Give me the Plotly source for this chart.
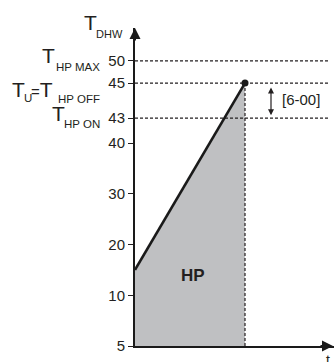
import numpy as np
import plotly.graph_objects as go

# schematic temperature axis: tick labels and where they sit on the (non-linear) axis
temp_ticks = [5, 10, 20, 30, 40, 43, 45, 50]
tick_pos = [0, 1, 2, 3, 4, 4.49, 5.18, 5.62]

# heat pump run: water heats from 15 to 45 over one period
heat_time = [0, 1]
heat_temp = [15, 45]

# limit lines
limit_temps = [50, 45, 43]
hp_on_temp = 43
hp_off_temp = 45
hyst_label = "[6-00]"

FONT = "Liberation Sans, Arial, sans-serif"
INK = "#231f20"

W, H = 334, 362
# plot area geometry (pixels) used only to place the free labels
X0, Y0, XS, YS, TOP = 135, 346, 110, 50.75, 28
x_max = (W - X0) / XS
y_max = (Y0 - TOP) / YS


def ypos(t):
    return float(np.interp(t, temp_ticks, tick_pos))


def px(x):
    return (x - X0) / XS


# paper coordinates from pixel position
def ppx(x):
    return (x - X0) / (W - X0)


def ppy(y):
    return (Y0 - y) / (Y0 - TOP)


heat_pos = [ypos(t) for t in heat_temp]

fig = go.Figure()

# shaded HP area
fig.add_trace(go.Scatter(x=heat_time, y=heat_pos, fill="tozeroy", fillcolor="#bfc0c2",
                         mode="lines", line=dict(width=0), hoverinfo="skip"))

# dashed limit lines
for t in limit_temps:
    fig.add_trace(go.Scatter(x=[0, px(328)], y=[ypos(t), ypos(t)], mode="lines",
                             line=dict(color=INK, width=1.2, dash="3px,2px")))

# dashed end-of-run line
fig.add_trace(go.Scatter(x=[heat_time[-1], heat_time[-1]], y=[0, heat_pos[-1]], mode="lines",
                         line=dict(color=INK, width=1.2, dash="3px,2px")))

# heating line with end dot
fig.add_trace(go.Scatter(x=heat_time, y=heat_pos, mode="lines",
                         line=dict(color="#1a1a1a", width=2.6)))
fig.add_trace(go.Scatter(x=[heat_time[-1]], y=[heat_pos[-1]], mode="markers",
                         marker=dict(color="#1a1a1a", size=7)))

ann = []


def label(text, x, y, size, anchor="right", bold=False):
    if bold:
        text = "<b>" + text + "</b>"
    ann.append(dict(x=ppx(x), y=ppy(y), xref="paper", yref="paper", text=text, showarrow=False,
                    borderpad=0, xanchor=anchor, yanchor="middle",
                    font=dict(family=FONT, size=size, color=INK)))


# axis title
label("T", 98, 22.5, 21)
label("DHW", 124, 33.5, 11)
# T HP MAX
label("T", 56, 55.5, 21)
label("HP MAX", 101, 66.5, 11.5)
# T U = T HP OFF
label("T", 26, 89.5, 21)
label("U", 33, 97.5, 11.5)
label("<span style='font-size:15px'>=</span>T", 54, 89.5, 21)
label("HP OFF", 101, 99, 11.5)
# T HP ON
label("T", 66, 113, 21)
label("HP ON", 101, 123.5, 11.5)
# area label, hysteresis label, time label
label("HP", 192.5, 275, 17, anchor="center", bold=True)
label(hyst_label, 281, 100, 15, anchor="left")
label("t", 328, 360, 14, anchor="center")

# axis arrowheads
ann.append(dict(x=0, y=1, xref="paper", yref="paper", ax=0, ay=14, text="", showarrow=True,
                arrowhead=2, arrowsize=1.1, arrowwidth=2, arrowcolor="#1a1a1a"))
ann.append(dict(x=ppx(333), y=0, xref="paper", yref="paper", ax=-14, ay=0, text="", showarrow=True,
                arrowhead=2, arrowsize=1.1, arrowwidth=2, arrowcolor="#1a1a1a"))
# hysteresis double arrow
ann.append(dict(x=px(271), y=ypos(hp_on_temp), ax=px(271), ay=ypos(hp_off_temp),
                xref="x", yref="y", axref="x", ayref="y", text="", showarrow=True,
                arrowhead=2, startarrowhead=2, arrowside="end+start", arrowsize=1,
                arrowwidth=1.2, arrowcolor=INK, standoff=3, startstandoff=3))

fig.update_layout(
    width=W, height=H,
    margin=dict(l=X0, r=0, t=TOP, b=H - Y0),
    plot_bgcolor="white", paper_bgcolor="white",
    showlegend=False,
    annotations=ann,
    xaxis=dict(range=[0, x_max], showgrid=False, zeroline=False, showticklabels=False,
               showline=True, linewidth=2, linecolor="#1a1a1a", ticks=""),
    yaxis=dict(range=[0, y_max], showgrid=False, zeroline=False,
               tickvals=tick_pos, ticktext=[str(t) for t in temp_ticks],
               ticks="outside", ticklen=5, tickwidth=1.2, tickcolor=INK,
               tickfont=dict(family=FONT, size=15, color=INK),
               showline=True, linewidth=2, linecolor="#1a1a1a"),
)

fig.write_html("out.html", config={"displayModeBar": False},
               post_script="document.body.style.margin='0';")
